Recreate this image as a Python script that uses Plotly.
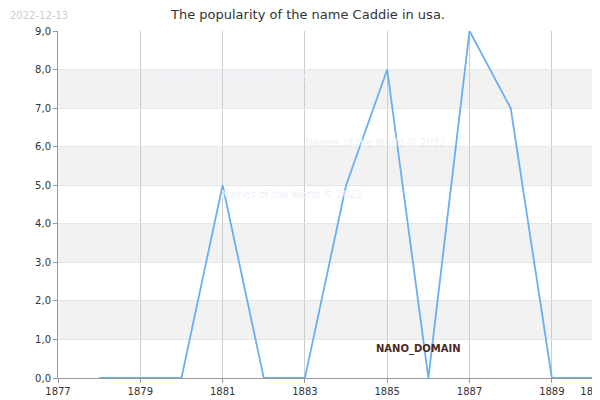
import plotly.graph_objects as go

years = [1878,1879,1880,1881,1882,1883,1884,1885,1886,1887,1888,1889,1890]
counts = [0,0,0,5,0,0,5,8,0,9,7,0,0]
yticks = [0,1,2,3,4,5,6,7,8,9]
yticklabels = ["0,0","1,0","2,0","3,0","4,0","5,0","6,0","7,0","8,0","9,0"]
xticks = [1877,1879,1881,1883,1885,1887,1889,1890]

fig = go.Figure()
shapes = []
for lo in [1,3,5,7]:
    shapes.append(dict(type="rect", xref="paper", yref="y", x0=0, x1=1, y0=lo, y1=lo+1,
                       fillcolor="#f2f2f2", line_width=0, layer="below"))
fig.add_trace(go.Scatter(x=years, y=counts, mode="lines",
                         line=dict(color="#6aaff0", width=1.8), hoverinfo="x+y"))
fig.update_layout(
    width=600, height=400, margin=dict(l=50, r=15, t=23, b=30, autoexpand=False),
    paper_bgcolor="white", plot_bgcolor="white", showlegend=False,
    shapes=shapes, font=dict(family="DejaVu Sans", size=11, color="#333"),
    title=dict(text="The popularity of the name Caddie in usa.", x=0.5, y=0.995,
               xanchor="center", yanchor="top", font=dict(size=13, color="#333")),
    xaxis=dict(range=[1877,1890], tickvals=xticks, ticktext=[str(t) for t in xticks],
               showgrid=True, gridcolor="#cccccc", zeroline=False, showline=True,
               linecolor="#999", ticks="outside", ticklen=4, tickcolor="#999",
               tickfont=dict(size=10), automargin=False),
    yaxis=dict(range=[0,9], tickvals=yticks, ticktext=yticklabels, showgrid=True,
               gridcolor="#e6e6e6", zeroline=False, showline=True, linecolor="#999",
               ticks="outside", ticklen=4, tickcolor="#999", tickfont=dict(size=10),
               automargin=False),
)
anns = [
    dict(text="2022-12-13", x=0, y=1, xref="paper", yref="paper", xanchor="left", yanchor="top",
         showarrow=False, font=dict(size=10, color="#cccccc"), xshift=-50, yshift=23),
    dict(text="Names of the World © 2022", x=155, y=62, xref="x domain", yref="y domain",
         showarrow=False, font=dict(size=10, color="#eef0fa")),
]
for px, py in [(155, 62), (367, 127), (211, 186)]:
    anns.append(dict(text="Names of the World © 2022", x=(px-50)/535, y=(370-py)/347,
                     xref="paper", yref="paper", showarrow=False,
                     font=dict(size=10, color="#eef0fa")))
anns.pop(1)
anns.append(dict(text="<b>NANO_DOMAIN</b>", x=1885.75, y=0.75, xref="x", yref="y",
                 showarrow=False, font=dict(size=10, color="#4a2a25")))
fig.update_layout(annotations=anns)
fig.write_html("out.html")
